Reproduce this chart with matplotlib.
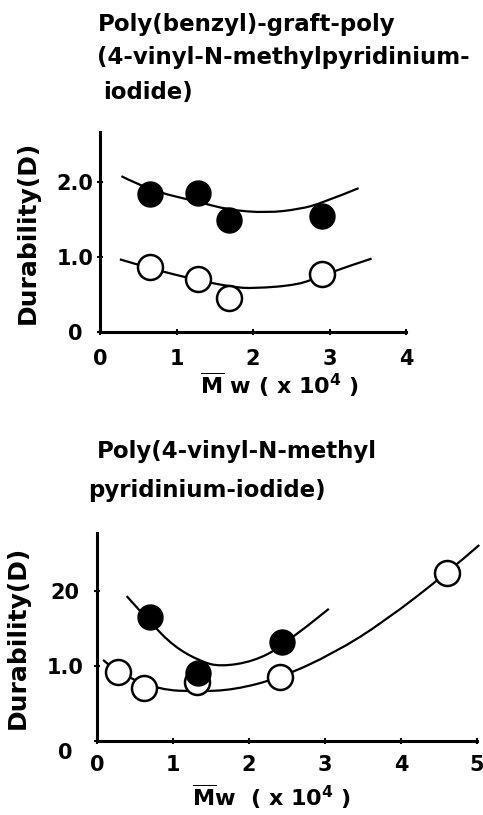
import matplotlib
matplotlib.use("Agg")
import matplotlib.pyplot as plt
from matplotlib.path import Path
from matplotlib.patches import PathPatch
from matplotlib.transforms import ScaledTranslation

plt.rcParams["font.family"] = ["DejaVu Sans"]
plt.rcParams["font.weight"] = "bold"
plt.rcParams["axes.labelweight"] = "bold"
plt.rcParams["mathtext.fontset"] = "dejavusans"
plt.rcParams["mathtext.default"] = "bf"

# graft copolymer: measured points
graft_mw = [0.65, 1.28, 1.68, 2.90]
graft_filled = [1.84, 1.85, 1.50, 1.55]
graft_open = [0.87, 0.71, 0.45, 0.77]

# graft copolymer: hand-drawn trend lines
graft_filled_line_x = [0.28, 0.65, 1.28, 1.68, 2.18, 2.61, 2.90, 3.38]
graft_filled_line_y = [2.08, 1.89, 1.74, 1.63, 1.59, 1.64, 1.72, 1.92]
graft_open_line_x = [0.26, 0.65, 1.28, 1.74, 2.00, 2.61, 2.90, 3.55]
graft_open_line_y = [0.97, 0.85, 0.69, 0.60, 0.58, 0.63, 0.76, 0.98]

# homopolymer: measured points
homo_filled_mw = [0.70, 1.33, 2.43]
homo_filled = [1.65, 0.91, 1.32]
homo_open_mw = [0.28, 0.62, 1.32, 2.41, 4.60]
homo_open = [0.92, 0.71, 0.79, 0.85, 2.24]

# homopolymer: hand-drawn trend lines
homo_filled_line_x = [0.39, 0.70, 1.01, 1.36, 1.62, 2.06, 2.44, 3.05]
homo_filled_line_y = [1.93, 1.58, 1.26, 1.06, 0.99, 1.06, 1.26, 1.76]
homo_open_line_x = [0.08, 0.28, 0.83, 1.32, 1.80, 2.41, 3.12, 3.78, 4.61, 5.03]
homo_open_line_y = [1.08, 0.90, 0.68, 0.66, 0.68, 0.84, 1.17, 1.59, 2.24, 2.61]

W, H = 483, 815
fig = plt.figure(figsize=(W / 100, H / 100), dpi=100)


def axes_px(left, bottom, width, height):
    return fig.add_axes([left / W, 1 - bottom / H, width / W, height / H])


def text_px(x, y, s, size=16.5, **kw):
    return fig.text(x / W, 1 - y / H, s, fontsize=size, va="baseline",
                    ha="left", **kw)


def style(ax, xmax, ymax, xticks, ylabels, ypad, xpad):
    ax.set_xlim(0, xmax)
    ax.set_ylim(0, ymax)
    for side in ("top", "right"):
        ax.spines[side].set_visible(False)
    for side in ("left", "bottom"):
        ax.spines[side].set_linewidth(2.2)
    ax.set_xticks(xticks)
    ax.set_xticklabels([str(t) for t in xticks])
    ax.set_yticks([0, 1, 2])
    ax.set_yticklabels(ylabels)
    ax.tick_params(axis="both", direction="inout", length=4, width=1.5,
                   labelsize=15)
    ax.tick_params(axis="y", pad=ypad)
    ax.tick_params(axis="x", pad=xpad)
    for lab in ax.get_yticklabels():
        lab.set_horizontalalignment("center")


def smooth_line(ax, xs, ys):
    # quadratic B-spline through the traced points, as one path
    pts = list(zip(xs, ys))
    verts = [pts[0]]
    codes = [Path.MOVETO]
    for i in range(1, len(pts) - 1):
        mid = ((pts[i][0] + pts[i + 1][0]) / 2, (pts[i][1] + pts[i + 1][1]) / 2)
        if i == len(pts) - 2:
            mid = pts[-1]
        verts += [pts[i], mid]
        codes += [Path.CURVE3, Path.CURVE3]
    ax.add_patch(PathPatch(Path(verts, codes), fill=False, edgecolor="black",
                           lw=1.6, zorder=2, clip_on=False))


def draw(ax, line_sets, open_pts, filled_pts):
    for lx, ly in line_sets:
        smooth_line(ax, lx, ly)
    ax.plot(*open_pts, "o", ms=18, mfc="white", mec="black", mew=1.8,
            zorder=3, clip_on=False)
    ax.plot(*filled_pts, "o", ms=18, mfc="black", mec="black",
            zorder=4, clip_on=False)


# upper panel
ax1 = axes_px(100, 332, 306, 200)
style(ax1, 4, 2.67, [0, 1, 2, 3, 4], ["0", "1.0", "2.0"], 16, 10)
draw(ax1,
     [(graft_filled_line_x, graft_filled_line_y),
      (graft_open_line_x, graft_open_line_y)],
     (graft_mw, graft_open), (graft_mw, graft_filled))
ax1.set_ylabel("Durability(D)", fontsize=18, labelpad=12)
text_px(200, 394, r"$\overline{\mathbf{M}}$ w ( x 10$^{\mathbf{4}}$ )", 16)

text_px(98, 31, "Poly(benzyl)-graft-poly")
text_px(97, 64, "(4-vinyl-N-methylpyridinium-")
text_px(103, 99, "iodide)")

# lower panel
ax2 = axes_px(97, 741, 380, 208)
style(ax2, 5, 2.77, [0, 1, 2, 3, 4, 5], ["0", "1.0", "20"], 21, 8)
zero_lab = ax2.get_yticklabels()[0]
zero_lab.set_transform(zero_lab.get_transform()
                       + ScaledTranslation(0, -0.1, fig.dpi_scale_trans))
draw(ax2,
     [(homo_filled_line_x, homo_filled_line_y),
      (homo_open_line_x, homo_open_line_y)],
     (homo_open_mw, homo_open), (homo_filled_mw, homo_filled))
ax2.set_ylabel("Durability(D)", fontsize=18, labelpad=12)
text_px(192, 806, r"$\overline{\mathbf{M}}$w  ( x 10$^{\mathbf{4}}$ )", 16)

text_px(97, 458, "Poly(4-vinyl-N-methyl")
text_px(88, 497, "pyridinium-iodide)")

fig.savefig("out.png", dpi=100)
